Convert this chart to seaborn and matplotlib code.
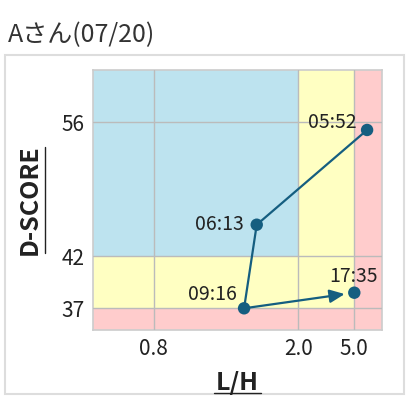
import numpy as np
import pandas as pd
import seaborn as sns
import matplotlib.pyplot as plt
from matplotlib.lines import Line2D
from matplotlib.patches import Rectangle

# readings of the day
times = ["05:52", "06:13", "09:16", "17:35"]
lh = [5.70, 1.655, 1.55, 5.0]
dscore = [55.2, 45.3, 37.0, 38.5]

x_ticks = [0.8, 2.0, 5.0]
y_ticks = [37, 42, 56]
x_zone = [2.0, 5.0]   # blue | yellow | pink
y_zone = [42, 37]     # blue | yellow | pink

title = "Aさん(07/20)"

# non linear axes (zone based)
x_anchor = [0.3, 0.8, 2.0, 5.0, 6.5]
x_pos = [0, 61, 205.6, 261.6, 289]
y_anchor = [34.9, 37, 42, 56, 61.5]
y_pos = [0, 21.7, 73.7, 207.7, 260]


def make_scale(a, p):
    a = np.asarray(a, float)
    p = np.asarray(p, float)
    s0 = (p[1] - p[0]) / (a[1] - a[0])
    s1 = (p[-1] - p[-2]) / (a[-1] - a[-2])
    aa = np.r_[a[0] - 1000, a, a[-1] + 1000]
    pp = np.r_[p[0] - 1000 * s0, p, p[-1] + 1000 * s1]

    def fwd(v):
        return np.interp(v, aa, pp)

    def inv(v):
        return np.interp(v, pp, aa)
    return fwd, inv


sns.set_style("white")
plt.rcParams["font.family"] = ["Noto Sans CJK JP", "DejaVu Sans"]

df = pd.DataFrame({"time": times, "lh": lh, "dscore": dscore})

fig = plt.figure(figsize=(4.1, 4.0), dpi=100)
fig.patches.append(Rectangle((5 / 410, 6 / 400), 399 / 410, 339 / 400,
                             transform=fig.transFigure, facecolor="white",
                             edgecolor="#dddddd", linewidth=1.5, zorder=-1))
ax = fig.add_axes([92.7 / 410, 70 / 400, 289 / 410, 260 / 400])

ax.set_xscale("function", functions=make_scale(x_anchor, x_pos))
ax.set_yscale("function", functions=make_scale(y_anchor, y_pos))
xlo, xhi = x_anchor[0], x_anchor[-1]
ylo, yhi = y_anchor[0], y_anchor[-1]
ax.set_xlim(xlo, xhi)
ax.set_ylim(ylo, yhi)

ax.set_facecolor("#ffcccc")
ax.fill_between([xlo, x_zone[1]], y_zone[1], yhi, color="#ffffc2", lw=0, zorder=0)
ax.fill_between([xlo, x_zone[0]], y_zone[0], yhi, color="#bde3ef", lw=0, zorder=0)

ax.set_xticks(x_ticks)
ax.set_xticklabels([f"{v:.1f}" for v in x_ticks])
ax.set_yticks(y_ticks)
ax.set_yticklabels([str(v) for v in y_ticks])
ax.grid(True, color="#bbbbbb", linewidth=1.0, zorder=1)
ax.set_axisbelow(False)
for sp in ax.spines.values():
    sp.set_color("#cccccc")
    sp.set_linewidth(1.2)
ax.tick_params(length=0, labelsize=15, colors="#222222", pad=6)

col = "#155e80"
sns.lineplot(data=df.iloc[:3], x="lh", y="dscore", sort=False, color=col,
             linewidth=1.6, ax=ax, zorder=3)
ax.annotate("", xy=(lh[3], dscore[3]), xytext=(lh[2], dscore[2]),
            arrowprops=dict(arrowstyle="-|>,head_length=0.9,head_width=0.4",
                            color=col, lw=1.6, shrinkA=0, shrinkB=7),
            zorder=3)
sns.scatterplot(data=df, x="lh", y="dscore", color=col, s=80,
                edgecolor="none", ax=ax, zorder=4)

offs = [(-10, 7, "right"), (-13, 0, "right"), (-7, 14, "right"), (-1, 16, "center")]
for t, x, y, (dx, dy, ha) in zip(times, lh, dscore, offs):
    ax.annotate(t, (x, y), xytext=(dx, dy), textcoords="offset pixels",
                ha=ha, va="center", fontsize=14, color="#222222", zorder=5)

ax.set_xlabel("L/H", fontsize=18, fontweight="bold", color="#222222", labelpad=8)
ax.set_ylabel("D-SCORE", fontsize=18, fontweight="bold", color="#222222", labelpad=14)

fig.text(8 / 410, 1 - 35 / 400, title, fontsize=18, color="#333333",
         ha="left", va="center")

# underline the axis labels
fig.canvas.draw()
W, H = fig.get_size_inches() * fig.dpi
bb = ax.xaxis.label.get_window_extent()
yline = bb.y0 + 2
fig.add_artist(Line2D([(bb.x0 - 2) / W, (bb.x1 + 2) / W], [yline / H, yline / H],
                      transform=fig.transFigure, color="#222222", lw=1.0))
bb = ax.yaxis.label.get_window_extent()
xline = bb.x1 + 3
fig.add_artist(Line2D([xline / W, xline / W], [(bb.y0 + 2) / H, (bb.y1 - 2) / H],
                      transform=fig.transFigure, color="#222222", lw=1.0))

fig.savefig("out.png", dpi=100)
